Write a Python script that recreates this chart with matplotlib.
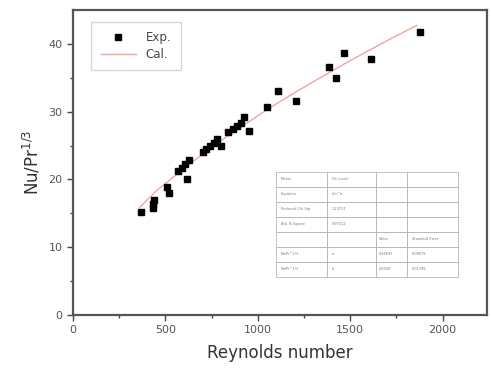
import matplotlib.pyplot as plt

re_exp = [366, 432, 434, 436, 506, 521, 569, 587, 605, 618, 629, 701, 719, 740, 762, 780, 798,
          839, 863, 885, 908, 925, 953, 1047, 1110, 1204, 1386, 1425, 1467, 1614, 1876]
nu_exp = [15.2, 15.8, 16.4, 17.0, 18.9, 18.0, 21.2, 21.7, 22.3, 20.1, 22.8, 24.0, 24.5, 25.0, 25.4,
          26.0, 24.9, 27.0, 27.5, 27.9, 28.4, 29.2, 27.2, 30.7, 33.0, 31.6, 36.6, 35.0, 38.7, 37.7, 41.7]

# curva calculada (ajuste)
re_cal = [360, 450, 600, 750, 900, 1050, 1200, 1350, 1500, 1680, 1860]
nu_cal = [15.87, 18.3, 21.61, 24.77, 27.58, 30.3, 32.82, 35.2, 37.53, 40.2, 42.73]

# tabla del ajuste
tabla = [["Model", "Fix (user)", "", ""],
         ["Equation", "a*x^b", "", ""],
         ["Reduced Chi-Sqr", "1.23717", "", ""],
         ["Adj. R-Square", "0.97412", "", ""],
         ["", "", "Value", "Standard Error"],
         ["Nu/Pr^1/3", "a", "0.45697", "0.08675"],
         ["Nu/Pr^1/3", "b", "0.6028", "0.01785"]]

fig = plt.figure(figsize=(4.91, 3.70), dpi=100)
ax = fig.add_axes([0.1487, 0.1486, 0.8432, 0.8244])

ax.plot(re_exp, nu_exp, "s", color="black", ms=4.5, label="Exp.", zorder=3)
ax.plot(re_cal, nu_cal, "-", color="#f4a3a3", lw=1, label="Cal.", zorder=2)

ax.set_xlim(0, 2240)
ax.set_ylim(0, 45)
ax.set_xticks([0, 500, 1000, 1500, 2000])
ax.set_xticks([250, 750, 1250, 1750], minor=True)
ax.set_yticks([0, 10, 20, 30, 40])
ax.set_yticks([5, 15, 25, 35], minor=True)
ax.tick_params(which="major", direction="out", length=4, width=1, colors="#444444",
               labelsize=8, labelcolor="#555555")
ax.tick_params(which="minor", direction="out", length=2.5, width=1, colors="#444444")
for s in ax.spines.values():
    s.set_linewidth(1.6)
    s.set_color("#555555")

ax.set_xlabel("Reynolds number", fontsize=12, color="#333333", labelpad=6)
ax.set_ylabel("Nu/Pr$^{1/3}$", fontsize=12, color="#333333", labelpad=4)

leg = ax.legend(loc="upper left", fontsize=8.5, frameon=True, fancybox=False,
                edgecolor="#cccccc", handlelength=3, borderpad=0.8, labelspacing=0.3,
                bbox_to_anchor=(0.03, 0.98))
leg.get_frame().set_linewidth(1)
for t in leg.get_texts():
    t.set_color("#444444")

tb = ax.table(cellText=tabla, colWidths=[0.28, 0.27, 0.17, 0.28], cellLoc="left",
              bbox=[0.49, 0.125, 0.44, 0.345])
tb.auto_set_font_size(False)
tb.set_fontsize(2.5)
for (r, c), cell in tb.get_celld().items():
    cell.set_edgecolor("#aaaaaa")
    cell.set_linewidth(0.5)
    cell.get_text().set_color("#777777")

fig.savefig("out.png", dpi=100)
plt.close()
